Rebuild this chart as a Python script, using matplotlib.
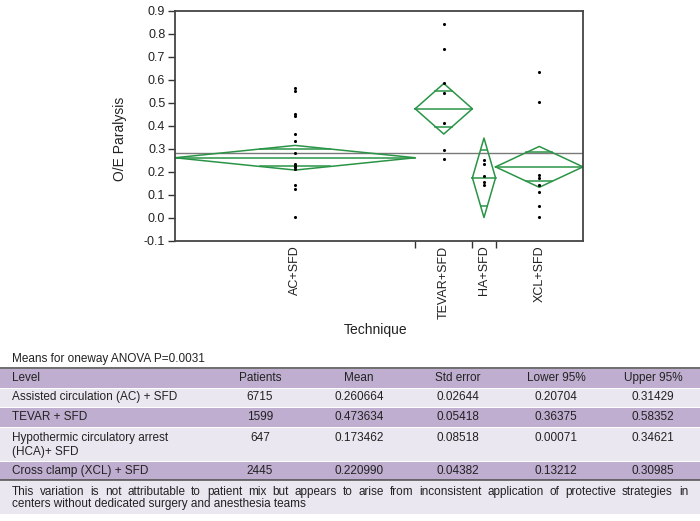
import matplotlib
matplotlib.use("Agg")
import matplotlib.pyplot as plt
import numpy as np
from matplotlib.patches import Rectangle

plt.rcParams['font.family'] = ['Liberation Sans', 'DejaVu Sans']
plt.rcParams['axes.unicode_minus'] = False

# ---------------- data ----------------
categories = ["AC+SFD", "TEVAR+SFD", "HA+SFD", "XCL+SFD"]
patients = [6715, 1599, 647, 2445]
means = [0.260664, 0.473634, 0.173462, 0.220990]
std_errors = [0.02644, 0.05418, 0.08518, 0.04382]
lower95 = [0.20704, 0.36375, 0.00071, 0.13212]
upper95 = [0.31429, 0.58352, 0.34621, 0.30985]

points_ac = [0.562, 0.553, 0.451, 0.444, 0.366, 0.333, 0.283, 0.233, 0.226, 0.219, 0.211, 0.141, 0.123, 0.003]
points_tevar = [0.842, 0.732, 0.584, 0.543, 0.413, 0.293, 0.254]
points_ha = [0.252, 0.233, 0.183, 0.154, 0.143]
points_xcl = [0.633, 0.503, 0.184, 0.174, 0.141, 0.113, 0.052, 0.003]
points = [points_ac, points_tevar, points_ha, points_xcl]
grand_mean = 0.280

yticks = [-0.1, 0.0, 0.1, 0.2, 0.3, 0.4, 0.5, 0.6, 0.7, 0.8, 0.9]

table_title = "Means for oneway ANOVA P=0.0031"
table_header = ["Level", "Patients", "Mean", "Std error", "Lower 95%", "Upper 95%"]
level_names = ["Assisted circulation (AC) + SFD", "TEVAR + SFD",
               "Hypothermic circulatory arrest\n(HCA)+ SFD", "Cross clamp (XCL) + SFD"]
patients_txt = ["6715", "1599", "647", "2445"]
means_txt = ["0.260664", "0.473634", "0.173462", "0.220990"]
se_txt = ["0.02644", "0.05418", "0.08518", "0.04382"]
lower_txt = ["0.20704", "0.36375", "0.00071", "0.13212"]
upper_txt = ["0.31429", "0.58352", "0.34621", "0.30985"]
footnote_line1 = ("This variation is not attributable to patient mix but appears to arise from "
                  "inconsistent application of protective strategies in")
footnote_line2 = "centers without dedicated surgery and anesthesia teams"

# ---------------- figure ----------------
W, H = 700, 521
fig = plt.figure(figsize=(W / 100, H / 100), dpi=100)


def fx(x):
    return x / W


def fy(y):
    return 1 - y / H


ax_left, ax_right, ax_top, ax_bot = 175, 583, 10.7, 240.7
ax = fig.add_axes([fx(ax_left), fy(ax_bot), (ax_right - ax_left) / W, (ax_bot - ax_top) / H])

green = '#2a9446'
total = sum(patients)
bounds = np.concatenate([[0], np.cumsum(patients)])
centers = (bounds[:-1] + bounds[1:]) / 2

ax.axhline(grand_mean, color='#7a7a7a', lw=1.0, zorder=1)

for i in range(len(categories)):
    l, r, c = bounds[i], bounds[i + 1], centers[i]
    m, lo, up = means[i], lower95[i], upper95[i]
    ax.plot([l, c, r, c, l], [m, up, m, lo, m], color=green, lw=1.1, zorder=2)
    ax.plot([l, r], [m, m], color=green, lw=1.1, zorder=2)
    h = (up - lo) / 2
    d = h / np.sqrt(2)
    hw = (r - l) / 2 * (1 - 1 / np.sqrt(2))
    for yy in (m + d, m - d):
        ax.plot([c - hw, c + hw], [yy, yy], color=green, lw=1.1, zorder=2)
    ax.scatter([c] * len(points[i]), points[i], s=5, color='black', zorder=3, linewidths=0)

ax.set_xlim(0, total)
ax.set_ylim(-0.1, 0.9)
ax.set_yticks(yticks)
ax.set_yticklabels([f"{v:.1f}" for v in yticks])
ax.tick_params(axis='y', length=5, width=1, color='#333333', labelsize=9, labelcolor='#222222', pad=2)

ax.set_xticks(bounds[1:-1])
ax.set_xticklabels([])
ax.tick_params(axis='x', which='major', length=5, width=1, color='#333333')
ax.set_xticks(centers, minor=True)
ax.set_xticklabels(categories, minor=True, rotation=90, fontsize=9, color='#222222')
ax.tick_params(axis='x', which='minor', length=0, pad=3.5)

for s in ax.spines.values():
    s.set_color('#444444')
    s.set_linewidth(1.3)

fig.text(fx(120), fy(139), "O/E Paralysis", rotation=90, ha='center', va='center',
         fontsize=10, color='#222222')
fig.text(fx(376), fy(330), "Technique", ha='center', va='center', fontsize=10, color='#222222')

# ---------------- table ----------------
dark = '#bfaed0'
light = '#ebe7f1'
rows = [(368.3, 387.7, dark), (387.7, 406.7, light), (406.7, 426.7, dark),
        (426.7, 461.0, light), (461.0, 480.0, dark), (480.0, 513.5, light)]
for top, bot, col in rows:
    fig.add_artist(Rectangle((0, fy(bot)), 1, (bot - top) / H - 1 / H,
                             transform=fig.transFigure, facecolor=col, edgecolor='none', zorder=0))
for yline in (368.3, 480.0):
    fig.add_artist(plt.Line2D([0, 1], [fy(yline), fy(yline)], transform=fig.transFigure,
                              color='#555555', lw=1.2))

tfs = 8.5
tcol = '#222222'
fig.text(fx(12), fy(359), table_title, ha='left', va='center', fontsize=tfs, color=tcol)

col_x = [260, 359, 458, 556, 653]
fig.text(fx(12), fy(378), table_header[0], ha='left', va='center', fontsize=tfs, color=tcol)
for j, hdr in enumerate(table_header[1:]):
    fig.text(fx(col_x[j]), fy(378), hdr, ha='center', va='center', fontsize=tfs, color=tcol)

row_y = [397, 417, 437.7, 471]
for i in range(4):
    y = row_y[i]
    name = level_names[i]
    if "\n" in name:
        a, b = name.split("\n")
        fig.text(fx(12), fy(y), a, ha='left', va='center', fontsize=tfs, color=tcol)
        fig.text(fx(12), fy(y + 14.6), b, ha='left', va='center', fontsize=tfs, color=tcol)
    else:
        fig.text(fx(12), fy(y), name, ha='left', va='center', fontsize=tfs, color=tcol)
    vals = [patients_txt[i], means_txt[i], se_txt[i], lower_txt[i], upper_txt[i]]
    for j, v in enumerate(vals):
        fig.text(fx(col_x[j]), fy(y), v, ha='center', va='center', fontsize=tfs, color=tcol)

# justified first footnote line
renderer = fig.canvas.get_renderer()
words = footnote_line1.split(" ")
arts = [fig.text(0, fy(491.7), w, ha='left', va='center', fontsize=tfs, color=tcol) for w in words]
widths = [a.get_window_extent(renderer).width for a in arts]
x0, x1 = 12, 688
gap = (x1 - x0 - sum(widths)) / (len(words) - 1)
x = x0
for a, w in zip(arts, widths):
    a.set_x(fx(x))
    x += w + gap
fig.text(fx(12), fy(504.5), footnote_line2, ha='left', va='center', fontsize=tfs, color=tcol)

fig.savefig("out.png", dpi=100)
